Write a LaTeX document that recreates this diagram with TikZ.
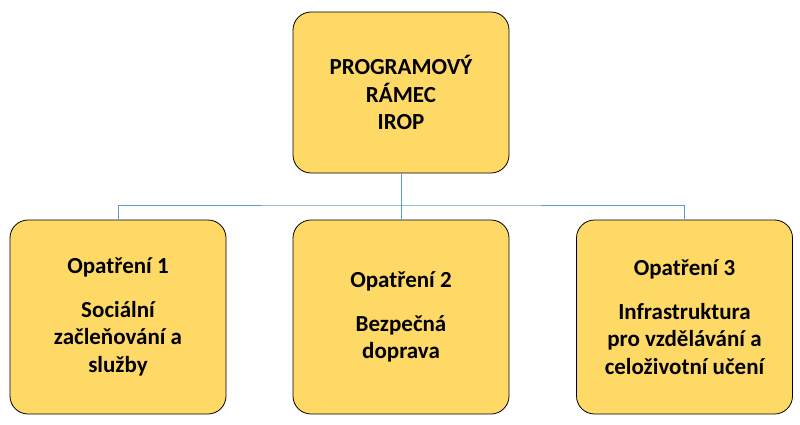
\documentclass[tikz,border=0pt]{standalone}
\usepackage{fontspec}
\setmainfont{Carlito}
\definecolor{boxfill}{HTML}{FFD966}
\definecolor{linkblue}{HTML}{5B9BD5}
\begin{document}
\begin{tikzpicture}[x=1pt,y=1pt]
  \tikzstyle{block} = [draw=black, line width=0.8pt, fill=boxfill, rounded corners=18pt,
    minimum width=216pt, minimum height=161pt, align=center, font=\bfseries\fontsize{23}{27.5}\selectfont]
  \tikzstyle{link} = [draw=linkblue, line width=0.7pt]
  \useasboundingbox (0,0) rectangle (800,424);
  \node [block] (irop) at (401,331.5) {PROGRAMOVÝ\\RÁMEC\\IROP};
  \node [block, minimum height=194pt] (op1) at (118,107) {Opatření 1\\[16pt]Sociální\\začleňování a\\služby};
  \node [block, minimum height=194pt] (op2) at (401,107) {Opatření 2\\[16pt]Bezpečná\\doprava};
  \node [block, minimum height=194pt] (op3) at (684.5,107) {Opatření 3\\[16pt]Infrastruktura\\pro vzdělávání a\\celoživotní učení};
  \coordinate (fork) at (401,219);
  \draw [link] (irop.south) -- (fork);
  \draw [link] (op1.north) |- (fork) -| (op3.north);
  \draw [link] (fork) -- (op2.north);
\end{tikzpicture}
\end{document}
